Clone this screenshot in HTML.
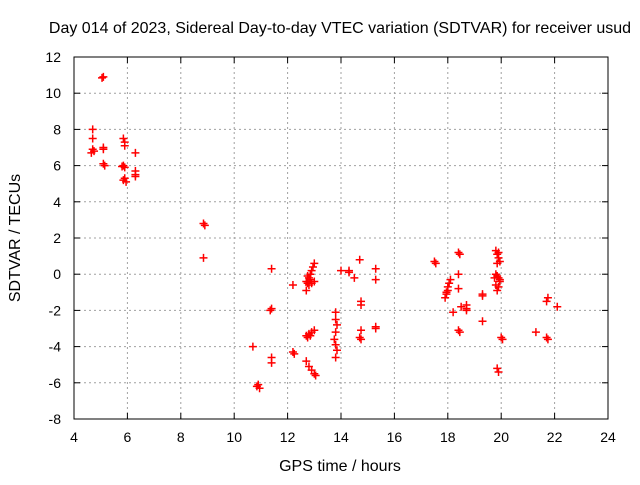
<!DOCTYPE html>
<html><head><meta charset="utf-8"><style>
body{margin:0;background:#fff}
svg text{font-family:"Liberation Sans",sans-serif;font-size:14px;fill:#000}
svg text.big{font-size:16px}
</style></head><body>
<svg width="640" height="480" id="c">
<text class="big" x="340" y="33" text-anchor="middle">Day 014 of 2023, Sidereal Day-to-day VTEC variation (SDTVAR) for receiver usud</text>
<text class="big" x="340" y="471" text-anchor="middle">GPS time / hours</text>
<text class="big" x="0" y="0" transform="translate(20,238) rotate(-90)" text-anchor="middle">SDTVAR / TECUs</text>
<g id="grid"></g><g id="axes"></g><g id="pts"></g>
</svg>
<script>
const xTicks=[4,6,8,10,12,14,16,18,20,22,24];
const yTicks=[-8,-6,-4,-2,0,2,4,6,8,10,12];
const xs=[5.1,5.05,4.7,4.7,4.7,4.65,4.75,5.1,5.1,5.15,5.1,5.85,5.9,5.9,5.85,5.9,5.85,5.95,5.9,5.8,6.3,6.3,6.3,6.3,8.85,8.9,8.85,10.7,10.85,10.9,10.95,11.4,11.4,11.35,11.4,11.4,12.2,12.2,12.25,
12.7,12.75,12.8,12.85,12.9,12.95,13.0,12.7,12.8,12.9,13.0,12.75,12.85,12.7,12.8,12.9,13.0,12.7,12.8,12.9,13.0,13.05,12.75,12.85,
13.8,13.8,13.85,13.8,13.75,13.8,13.85,13.8,14.0,14.3,14.3,14.5,14.7,14.75,14.75,14.75,14.7,14.75,15.3,15.3,15.3,15.3,
17.5,17.55,17.9,17.95,18.0,18.05,18.1,17.95,18.0,18.4,18.45,18.4,18.4,18.4,18.45,18.2,18.7,18.7,18.7,18.5,19.3,19.3,19.3,
19.8,19.85,19.9,19.95,19.8,19.85,19.9,19.95,19.75,19.8,19.85,19.9,19.95,19.85,19.9,19.85,19.9,20.0,20.05,21.3,21.7,21.75,21.7,21.75,22.1];
const ys=[10.9,10.85,8.0,7.5,6.9,6.7,6.8,6.9,6.1,6.0,7.0,7.5,7.3,7.1,6.0,5.9,5.2,5.1,5.3,5.95,6.7,5.7,5.4,5.5,2.8,2.7,0.9,-4.0,-6.2,-6.1,-6.3,0.3,-1.9,-2.0,-4.6,-4.9,-0.6,-4.3,-4.4,
-0.9,-0.5,-0.2,0.0,0.2,0.4,0.6,-0.4,-0.6,-0.5,-0.4,-3.5,-3.4,-3.4,-3.3,-3.2,-3.1,-4.8,-5.1,-5.3,-5.5,-5.6,-0.1,-0.3,
-2.1,-2.5,-2.8,-3.2,-3.6,-3.9,-4.2,-4.6,0.2,0.2,0.1,-0.2,0.8,-1.5,-1.7,-3.1,-3.5,-3.6,0.3,-0.3,-2.9,-3.0,
0.7,0.6,-1.3,-1.0,-0.7,-0.5,-0.3,-1.1,-0.9,1.2,1.1,0.0,-0.8,-3.1,-3.2,-2.1,-1.7,-1.9,-2.0,-1.8,-1.2,-1.1,-2.6,
1.3,1.1,0.9,0.7,0.0,-0.1,-0.2,-0.4,-0.2,-0.6,-0.9,-0.7,-0.3,-5.2,-5.4,0.6,1.2,-3.5,-3.6,-3.2,-1.5,-1.3,-3.5,-3.6,-1.8];
const L=74,R=608,T=57,B=419;
const X=v=>L+(v-4)/20*(R-L), Y=v=>B-(v+8)/20*(B-T);
const NS='http://www.w3.org/2000/svg';
function mk(t,a,p){const e=document.createElementNS(NS,t);for(const k in a)e.setAttribute(k,a[k]);p.appendChild(e);return e;}
const g=document.getElementById('grid'),ax=document.getElementById('axes'),pt=document.getElementById('pts');
xTicks.forEach(v=>{const x=X(v);
 if(v>4&&v<24){const l=mk('line',{x1:x,x2:x,y1:T,y2:B,stroke:'#a0a0a0','stroke-dasharray':'2,3'},g);
 
 }
 mk('line',{x1:x,x2:x,y1:B,y2:B-6,stroke:'#000'},ax);mk('line',{x1:x,x2:x,y1:T,y2:T+6,stroke:'#000'},ax);
 const t=mk('text',{x:x,y:442,'text-anchor':'middle'},ax);t.textContent=v;
 
 });
yTicks.forEach(v=>{const y=Y(v);
 if(v>-8&&v<12){const l=mk('line',{x1:L,x2:R,y1:y,y2:y,stroke:'#a0a0a0','stroke-dasharray':'2,3'},g);
 
 }
 mk('line',{x1:L,x2:L+6,y1:y,y2:y,stroke:'#000'},ax);mk('line',{x1:R,x2:R-6,y1:y,y2:y,stroke:'#000'},ax);
 const t=mk('text',{x:61,y:y+5,'text-anchor':'end'},ax);t.textContent=v;
 
 });
const fr=mk('rect',{x:L,y:T,width:R-L,height:B-T,fill:'none',stroke:'#000'},ax);


xs.forEach((v,i)=>{const x=X(v),y=Y(ys[i]);
 const p=mk('path',{d:`M${x-4},${y}H${x+4}M${x},${y-4}V${y+4}`,stroke:'#ff0000','stroke-width':1.5},pt);
 
 });
</script>
</body></html>
